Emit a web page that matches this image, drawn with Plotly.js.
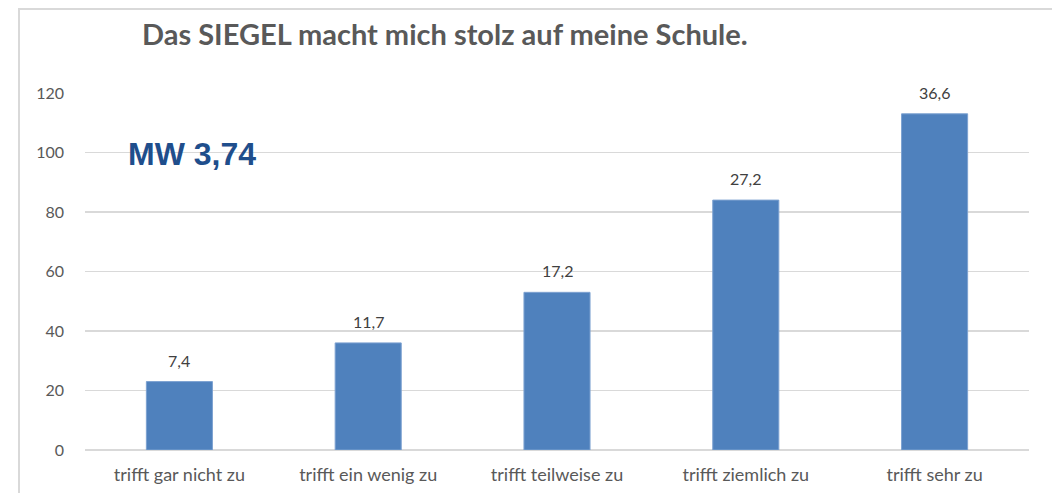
<!DOCTYPE html>
<html>
<head>
<meta charset="utf-8">
<script src="https://cdn.plot.ly/plotly-3.0.1.min.js"></script>
<style>
html,body{margin:0;padding:0;background:#fff;}
#wrap{position:relative;width:1052px;height:493px;}
#chart{width:1052px;height:493px;}
#frame{position:absolute;left:18px;top:8px;right:0;bottom:0;border-top:2px solid #d9d9d9;border-left:2px solid #d9d9d9;pointer-events:none;}
</style>
</head>
<body>
<div id="wrap"><div id="chart"></div><div id="frame"></div></div>
<script>
const categories = ["trifft gar nicht zu", "trifft ein wenig zu", "trifft teilweise zu", "trifft ziemlich zu", "trifft sehr zu"];
const counts = [23, 36, 53, 84, 113];
const percentLabels = ["7,4", "11,7", "17,2", "27,2", "36,6"];
const yTicks = [0, 20, 40, 60, 80, 100, 120];
const chartTitle = "Das SIEGEL macht mich stolz auf meine Schule.";
const meanLabel = "MW 3,74";

const trace = {
  type: "bar",
  x: categories,
  y: counts,
  width: 0.35,
  marker: {color: "#4f81bd", line: {color: "#7da2d1", width: 1}},
  hoverinfo: "skip"
};

const annotations = categories.map((c, i) => ({
  x: c, y: counts[i], xref: "x", yref: "y",
  text: percentLabels[i], showarrow: false,
  yanchor: "bottom", yshift: 10,
  font: {family: "Lato, 'Open Sans', sans-serif", size: 16, color: "#404040"}
}));
annotations.push({
  xref: "paper", yref: "paper", x: 0.043, y: 0.83,
  xanchor: "left", yanchor: "middle",
  text: "<b>" + meanLabel + "</b>", showarrow: false,
  font: {family: "'Liberation Sans', Arial, sans-serif", size: 32, color: "#1f4e8c"}
});

const layout = {
  width: 1052, height: 493,
  margin: {l: 85, r: 23, t: 93, b: 43},
  paper_bgcolor: "#ffffff", plot_bgcolor: "#ffffff",
  showlegend: false,
  title: {
    text: "<b>" + chartTitle + "</b>",
    x: 142 / 1052, xanchor: "left",
    y: 1 - 35 / 493, yanchor: "middle",
    font: {family: "Lato, 'Open Sans', sans-serif", size: 29, color: "#595959"}
  },
  xaxis: {
    type: "category",
    showgrid: false, showline: false, zeroline: false,
    ticks: "", ticklen: 0,
    ticklabelstandoff: 12,
    tickfont: {family: "Lato, 'Open Sans', sans-serif", size: 18, color: "#595959"},
    fixedrange: true
  },
  yaxis: {
    range: [0, 120],
    tickvals: yTicks,
    ticktext: yTicks.map(String),
    showgrid: true, gridcolor: "#d9d9d9", gridwidth: 1.5,
    zeroline: true, zerolinecolor: "#d9d9d9", zerolinewidth: 1.5,
    showline: false, ticks: "",
    ticklabelstandoff: 20,
    tickfont: {family: "Lato, 'Open Sans', sans-serif", size: 16, color: "#595959"},
    fixedrange: true
  },
  annotations: annotations
};

Plotly.newPlot("chart", [trace], layout, {displayModeBar: false, staticPlot: true});
</script>
</body>
</html>
